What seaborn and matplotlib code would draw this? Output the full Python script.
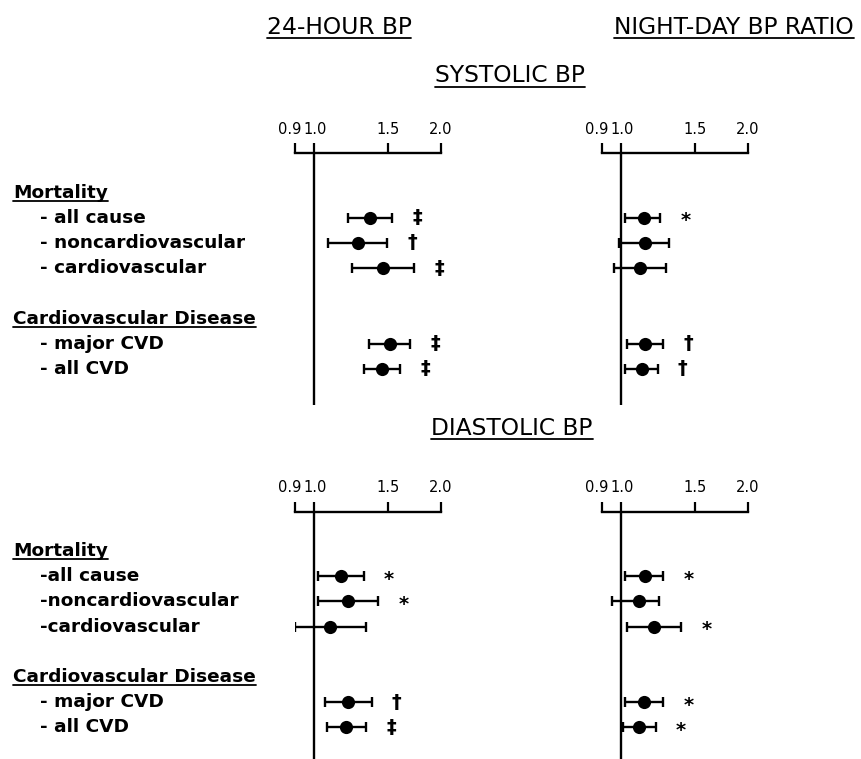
import pandas as pd
import seaborn as sns
import matplotlib.pyplot as plt
from matplotlib.lines import Line2D
from matplotlib.ticker import FixedLocator, FixedFormatter, NullLocator
from matplotlib.transforms import blended_transform_factory, offset_copy, ScaledTranslation

# outcomes, in display order
outcomes = ["all cause", "noncardiovascular", "cardiovascular", "major CVD", "all CVD"]
group_names = ["Mortality", "Cardiovascular Disease"]
group_sizes = [3, 2]
sys_labels = ["- all cause", "- noncardiovascular", "- cardiovascular", "- major CVD", "- all CVD"]
dia_labels = ["-all cause", "-noncardiovascular", "-cardiovascular", "- major CVD", "- all CVD"]

tick_values = [0.9, 1.0, 1.5, 2.0]
tick_labels = ["0.9", "1.0", "1.5", "2.0"]

# systolic, 24-hour BP
sys_24h_hr = [1.36, 1.27, 1.46, 1.51, 1.45]
sys_24h_lo = [1.20, 1.08, 1.23, 1.35, 1.31]
sys_24h_hi = [1.53, 1.49, 1.73, 1.69, 1.60]
sys_24h_sig = ["‡", "†", "‡", "‡", "‡"]

# systolic, night-day ratio
sys_nd_hr = [1.13, 1.14, 1.11, 1.14, 1.12]
sys_nd_lo = [1.02, 0.99, 0.96, 1.03, 1.02]
sys_nd_hi = [1.24, 1.30, 1.28, 1.26, 1.22]
sys_nd_sig = ["*", "", "", "†", "†"]

# diastolic, 24-hour BP
dia_24h_hr = [1.16, 1.20, 1.09, 1.20, 1.19]
dia_24h_lo = [1.02, 1.02, 0.90, 1.06, 1.07]
dia_24h_hi = [1.31, 1.42, 1.33, 1.37, 1.33]
dia_24h_sig = ["*", "*", "", "†", "‡"]

# diastolic, night-day ratio
dia_nd_hr = [1.14, 1.10, 1.20, 1.13, 1.10]
dia_nd_lo = [1.02, 0.95, 1.03, 1.02, 1.01]
dia_nd_hi = [1.26, 1.23, 1.39, 1.26, 1.21]
dia_nd_sig = ["*", "", "*", "*", "*"]

sns.set_style("white")
plt.rcParams["font.family"] = ["DejaVu Sans"]
plt.rcParams["text.color"] = "black"

W, H = 861, 759
fig = plt.figure(figsize=(W / 100, H / 100), dpi=100)

# row layout: header, items, blank line, header, items
header_rows, item_rows = [], []
r = 0
for n in group_sizes:
    header_rows.append(r)
    r += 1
    for i in range(n):
        item_rows.append(r)
        r += 1
    r += 1


def panel(rect, hr, lo, hi, sig):
    ax = fig.add_axes(rect)
    df = pd.DataFrame({"outcome": outcomes, "hr": hr, "lo": lo, "hi": hi,
                       "sig": sig, "row": item_rows})
    ax.set_xscale("log")
    ax.errorbar(df["hr"], df["row"], xerr=[df["hr"] - df["lo"], df["hi"] - df["hr"]],
                fmt="none", ecolor="black", elinewidth=1.7, capsize=3.8, capthick=1.7, zorder=2)
    sns.scatterplot(data=df, x="hr", y="row", s=90, color="black", linewidth=0,
                    ax=ax, zorder=3, legend=False)
    ax.axvline(1.0, color="black", lw=1.7, zorder=1)
    ax.set_xlim(0.9, 2.0)
    ax.set_ylim(8.43, -1.56)
    ax.set_xlabel("")
    ax.set_ylabel("")
    ax.set_yticks([])
    ax.xaxis.tick_top()
    ax.xaxis.set_major_locator(FixedLocator(tick_values))
    ax.xaxis.set_major_formatter(FixedFormatter(tick_labels))
    ax.xaxis.set_minor_locator(NullLocator())
    ax.tick_params(axis="x", direction="out", length=7, width=1.6, pad=5,
                   labelsize=10.5, colors="black")
    for side in ["left", "right", "bottom"]:
        ax.spines[side].set_visible(False)
    ax.spines["top"].set_linewidth(1.7)
    ax.spines["top"].set_color("black")
    ax.patch.set_alpha(0)
    tr = offset_copy(ax.transData, fig=fig, x=25, y=0, units="dots")
    for _, row in df.iterrows():
        if row["sig"]:
            dy = 0.12 if row["sig"] == "*" else 0.0
            ax.text(row["hi"], row["row"] + dy, row["sig"], transform=tr, ha="center",
                    va="center", fontsize=14, fontweight="bold", color="black")
    return ax


aw = 145.7 / W
ah = 251.7 / H
sys_b = (H - 405) / H
dia_b = (H - 763.4) / H

ax1 = panel([295.1 / W, sys_b, aw, ah], sys_24h_hr, sys_24h_lo, sys_24h_hi, sys_24h_sig)
ax2 = panel([602.0 / W, sys_b, aw, ah], sys_nd_hr, sys_nd_lo, sys_nd_hi, sys_nd_sig)
ax3 = panel([295.1 / W, dia_b, aw, ah], dia_24h_hr, dia_24h_lo, dia_24h_hi, dia_24h_sig)
ax4 = panel([602.0 / W, dia_b, aw, ah], dia_nd_hr, dia_nd_lo, dia_nd_hi, dia_nd_sig)

# nudge the first tick label left so "0.9" and "1.0" do not collide
for ax in [ax1, ax2, ax3, ax4]:
    first = ax.xaxis.get_majorticklabels()[0]
    first.set_transform(first.get_transform() + ScaledTranslation(-5 / 100, 0, fig.dpi_scale_trans))
    second = ax.xaxis.get_majorticklabels()[1]
    second.set_transform(second.get_transform() + ScaledTranslation(1 / 100, 0, fig.dpi_scale_trans))

underlined = []

# row labels on the left
for ax, labels in [(ax1, sys_labels), (ax3, dia_labels)]:
    tr = blended_transform_factory(fig.transFigure, ax.transData)
    for name, yr in zip(group_names, header_rows):
        t = ax.text(13 / W, yr, name, transform=tr, ha="left", va="center",
                    fontsize=13.3, fontweight="bold", clip_on=False)
        underlined.append(t)
    for lab, yr in zip(labels, item_rows):
        ax.text(40 / W, yr, lab, transform=tr, ha="left", va="center",
                fontsize=13.3, fontweight="bold", clip_on=False)

# titles
for x, y, s in [(339, 27, "24-HOUR BP"), (734, 27, "NIGHT-DAY BP RATIO"),
                (510, 76, "SYSTOLIC BP"), (512, 429, "DIASTOLIC BP")]:
    t = fig.text(x / W, 1 - y / H, s, ha="center", va="center", fontsize=16.8)
    underlined.append(t)

fig.canvas.draw()
renderer = fig.canvas.get_renderer()
for t in underlined:
    bb = t.get_window_extent(renderer)
    y = bb.y0 + 1
    fig.add_artist(Line2D([bb.x0 / W, bb.x1 / W], [y / H, y / H],
                          transform=fig.transFigure, color="black", lw=1.3))

fig.savefig("out.png", dpi=100)
plt.close(fig)
